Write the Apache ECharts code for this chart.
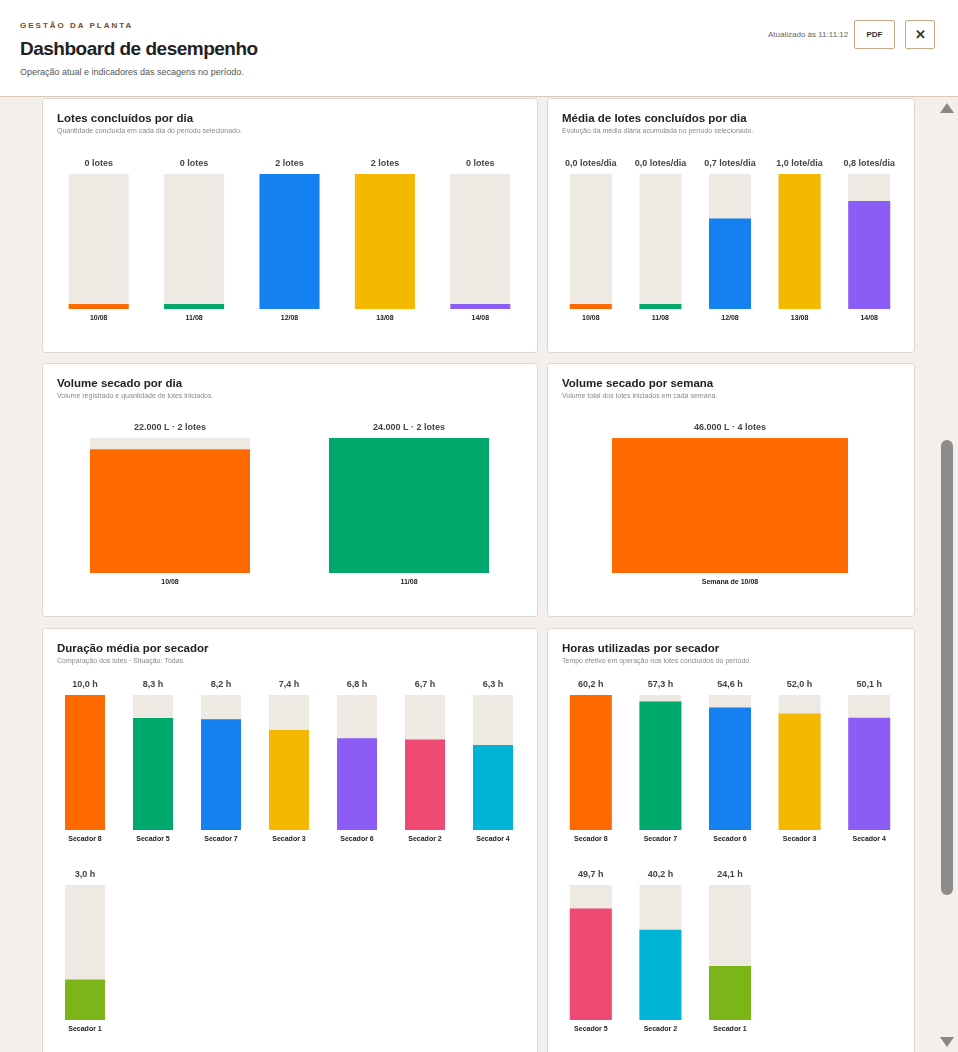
<!DOCTYPE html>
<html><head><meta charset="utf-8">
<script src="https://cdn.jsdelivr.net/npm/echarts@6/dist/echarts.min.js"></script>
<style>
body{margin:0;width:958px;height:1052px;overflow:hidden;background:#f4efea;font-family:Arial,"Liberation Sans",sans-serif;position:relative}
#hdr{position:absolute;left:0;top:0;width:958px;height:96px;background:#fff;border-bottom:1px solid #d9c9bd}
.k{position:absolute;left:20px;top:21px;font-size:8px;font-weight:bold;letter-spacing:2px;color:#7a4a2a}
.t{position:absolute;left:20px;top:38px;font-size:19px;font-weight:bold;color:#222;letter-spacing:-0.5px}
.s{position:absolute;left:20px;top:67px;font-size:9px;color:#555}
.u{position:absolute;left:768px;top:30px;font-size:8px;color:#666}
.b{position:absolute;border:1px solid #c9a58a;border-radius:2px;background:#fff;display:flex;align-items:center;justify-content:center;font-weight:bold;color:#333}
#chart{position:absolute;left:0;top:97px;width:958px;height:955px}
#sb{position:absolute;left:934px;top:97px;width:24px;height:955px;background:#f4efea}
#thumb{position:absolute;left:7px;top:343px;width:12px;height:455px;background:#8c8c8c;border-radius:6px}
.ar{position:absolute;left:6px;width:0;height:0;border-left:7px solid transparent;border-right:7px solid transparent}
</style></head><body>
<div id="hdr">
<div class="k">GESTÃO DA PLANTA</div>
<div class="t">Dashboard de desempenho</div>
<div class="s">Operação atual e indicadores das secagens no período.</div>
<div class="u">Atualizado às 11:11:12</div>
<div class="b" style="left:854px;top:20px;width:39px;height:27px;font-size:8px">PDF</div>
<div class="b" style="left:905px;top:20px;width:28px;height:27px;font-size:13px">✕</div>
</div>
<div id="chart"></div>
<div id="sb"><div class="ar" style="top:6px;border-bottom:10px solid #888"></div><div id="thumb"></div><div class="ar" style="top:940px;border-top:10px solid #888"></div></div>
<script>
const daysCats=['10/08','11/08','12/08','13/08','14/08'];
const lotesDia=[0,0,2,2,0];
const mediaDia=[0,0,0.67,1.0,0.8];
const volCats=['10/08','11/08'];
const volDia=[22000,24000];
const volLotes=[2,2];
const semCats=['Semana de 10/08'];
const volSem=[46000];
const semLotes=[4];
const durCats=['Secador 8','Secador 5','Secador 7','Secador 3','Secador 6','Secador 2','Secador 4','Secador 1'];
const durVals=[10.0,8.3,8.2,7.4,6.8,6.7,6.3,3.0];
const horCats=['Secador 8','Secador 7','Secador 6','Secador 3','Secador 4','Secador 5','Secador 2','Secador 1'];
const horVals=[60.2,57.3,54.6,52.0,50.1,49.7,40.2,24.1];
const C=['#ff6a00','#00a86b','#1580f0','#f5b800','#8b5cf6','#ee4a72','#00b4d8','#7cb518'];
const durColors=C, horColors=C;
const Y0=97;
const fmt1=v=>v.toFixed(1).replace('.',',');
const fmtL=v=>v.toLocaleString('de-DE');

const grids=[],xs=[],ys=[],series=[];
function addChart(left,width,topPage,cats,vals,colors,max,bw,labelFn,nCats){
  const gi=grids.length;
  const c=cats.slice(),v=vals.slice(),col=colors.slice();
  while(c.length<nCats){c.push('');v.push(null);col.push('#000');}
  grids.push({left:left,top:topPage-Y0,width:width,height:135});
  xs.push({type:'category',gridIndex:gi,data:c,axisLine:{show:false},axisTick:{show:false},
    axisLabel:{fontSize:7,fontWeight:'bold',color:'#222',margin:6}});
  ys.push({type:'value',gridIndex:gi,min:0,max:max,show:false});
  series.push({type:'bar',xAxisIndex:gi,yAxisIndex:gi,barWidth:bw,silent:true,
    data:v.map(x=>x==null?null:{value:max,raw:x}),itemStyle:{color:'#efe9e4'},
    label:{show:true,position:'top',distance:6,fontSize:9,fontWeight:'bold',color:'#444',
      formatter:p=>labelFn(p.data.raw,p.dataIndex)}});
  series.push({type:'bar',xAxisIndex:gi,yAxisIndex:gi,barWidth:bw,barGap:'-100%',barMinHeight:5,silent:true,
    data:v.map((x,i)=>x==null?null:{value:x,itemStyle:{color:col[i]}})});
}
addChart(51,477,174,daysCats,lotesDia,C,2,60,v=>v+' lotes',5);
addChart(556,348,174,daysCats,mediaDia,C,1,42,v=>fmt1(v)+(Math.round(v*10)===10?' lote/dia':' lotes/dia'),5);
addChart(50.5,478,438,volCats,volDia,C,24000,160,(v,i)=>fmtL(v)+' L · '+volLotes[i]+' lotes',2);
addChart(612,236,438,semCats,volSem,C,46000,236,(v,i)=>fmtL(v)+' L · '+semLotes[i]+' lotes',1);
addChart(51,476,695,durCats.slice(0,7),durVals.slice(0,7),durColors.slice(0,7),10,40,v=>fmt1(v)+' h',7);
addChart(51,476,885,durCats.slice(7),durVals.slice(7),durColors.slice(7),10,40,v=>fmt1(v)+' h',7);
addChart(556,348,695,horCats.slice(0,5),horVals.slice(0,5),horColors.slice(0,5),60.2,42,v=>fmt1(v)+' h',5);
addChart(556,348,885,horCats.slice(5),horVals.slice(5),horColors.slice(5),60.2,42,v=>fmt1(v)+' h',5);

const panels=[
 [42,98,495,254,'Lotes concluídos por dia','Quantidade concluída em cada dia do período selecionado.'],
 [547,98,367,254,'Média de lotes concluídos por dia','Evolução da média diária acumulada no período selecionado.'],
 [42,363,495,253,'Volume secado por dia','Volume registrado e quantidade de lotes iniciados.'],
 [547,363,367,253,'Volume secado por semana','Volume total dos lotes iniciados em cada semana.'],
 [42,628,495,440,'Duração média por secador','Comparação dos lotes · Situação: Todas.'],
 [547,628,367,440,'Horas utilizadas por secador','Tempo efetivo em operação nos lotes concluídos do período.']
];
const graphic=[];
panels.forEach(p=>{
  graphic.push({type:'rect',z:-10,shape:{x:p[0]+0.5,y:p[1]-Y0+0.5,width:p[2],height:p[3],r:3},style:{fill:'#fff',stroke:'#ddd6d0',lineWidth:1}});
  graphic.push({type:'text',x:p[0]+15,y:p[1]-Y0+15,style:{text:p[4],fontSize:11.5,fontWeight:'bold',fill:'#222',fontFamily:'Arial'}});
  graphic.push({type:'text',x:p[0]+15,y:p[1]-Y0+30,style:{text:p[5],fontSize:7,fill:'#888',fontFamily:'Arial'}});
});
const ch=echarts.init(document.getElementById('chart'));
ch.setOption({animation:false,textStyle:{fontFamily:'Arial'},grid:grids,xAxis:xs,yAxis:ys,series:series,graphic:graphic});
</script></body></html>
